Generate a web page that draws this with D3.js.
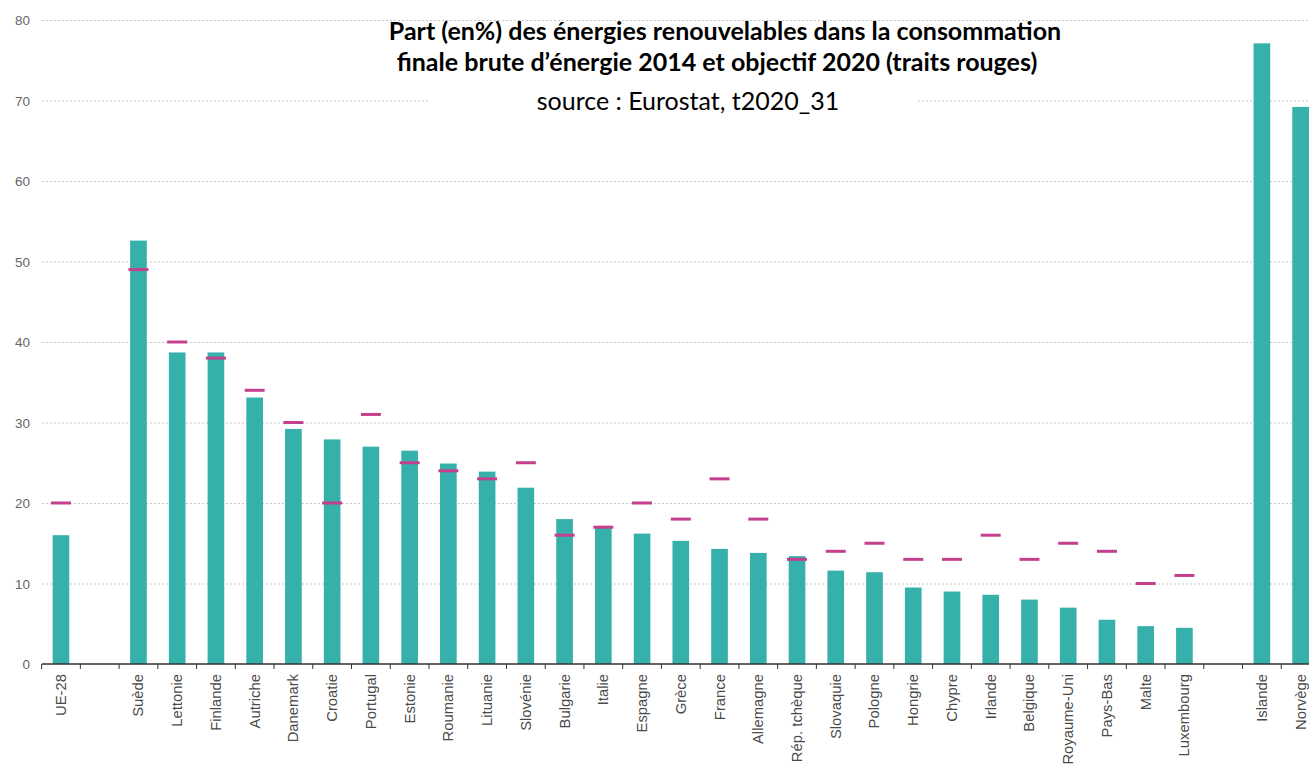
<!DOCTYPE html>
<html>
<head>
<meta charset="utf-8">
<script src="https://cdn.jsdelivr.net/npm/d3@7"></script>
<style>
  body { margin: 0; background: #fff; }
  svg { display: block; }
</style>
</head>
<body>
<div id="chart"></div>
<script>
// les pays (les "" sont des cases vides dans l'axe)
let pays = ["UE-28", "", "Suède", "Lettonie", "Finlande", "Autriche", "Danemark", "Croatie",
    "Portugal", "Estonie", "Roumanie", "Lituanie", "Slovénie", "Bulgarie", "Italie", "Espagne",
    "Grèce", "France", "Allemagne", "Rép. tchèque", "Slovaquie", "Pologne", "Hongrie", "Chypre",
    "Irlande", "Belgique", "Royaume-Uni", "Pays-Bas", "Malte", "Luxembourg", " ", "Islande", "Norvège"];

// part 2014 (%)
let part2014 = [16.0, null, 52.6, 38.7, 38.7, 33.1, 29.2, 27.9,
    27.0, 26.5, 24.9, 23.9, 21.9, 18.0, 17.1, 16.2,
    15.3, 14.3, 13.8, 13.4, 11.6, 11.4, 9.5, 9.0,
    8.6, 8.0, 7.0, 5.5, 4.7, 4.5, null, 77.1, 69.2];

// objectif 2020 (%)
let objectif2020 = [20, null, 49, 40, 38, 34, 30, 20,
    31, 25, 24, 23, 25, 16, 17, 20,
    18, 23, 18, 13, 14, 15, 13, 13,
    16, 13, 15, 14, 10, 11, null, null, null];

let yTicks = [0, 10, 20, 30, 40, 50, 60, 70, 80];

let titre1 = "Part (en%) des énergies renouvelables dans la consommation";
let titre2 = "finale brute d\u2019énergie 2014 et objectif 2020 (traits rouges)";
let source = "source : Eurostat, t2020_31";

let width = 1309;
let height = 764;

let svg = d3.select('#chart')
    .append('svg')
    .attr('width', width)
    .attr('height', height);

let x = d3.scaleBand()
    .domain(pays)
    .range([41.6, 1320])
    .paddingInner(0.57)
    .paddingOuter(0.285);

let y = d3.scaleLinear()
    .domain([0, 80])
    .range([664, 20]);

let police = '"Liberation Sans", Arial, sans-serif';

// grille en pointillés
svg.append('g')
    .selectAll('line')
    .data(yTicks.slice(1))
    .enter()
    .append('line')
    .attr('x1', 42)
    .attr('x2', width)
    .attr('y1', d => y(d) + 0.5)
    .attr('y2', d => y(d) + 0.5)
    .attr('stroke', '#c8c8c8')
    .attr('stroke-width', 1)
    .attr('stroke-dasharray', '2,2');

// graduations à gauche
svg.append('g')
    .selectAll('text')
    .data(yTicks)
    .enter()
    .append('text')
    .attr('x', 30)
    .attr('y', d => y(d) + 5)
    .attr('text-anchor', 'end')
    .style('font-family', police)
    .style('font-size', '13.5px')
    .attr('fill', '#666')
    .text(d => d);

// barres
let idx = d3.range(pays.length);
svg.append('g')
    .selectAll('rect')
    .data(idx.filter(i => part2014[i] != null))
    .enter()
    .append('rect')
    .attr('x', i => x(pays[i]))
    .attr('width', x.bandwidth())
    .attr('y', i => y(part2014[i]))
    .attr('height', i => y(0) - y(part2014[i]))
    .attr('fill', '#35b0ab');

// axe du bas
let gx = svg.append('g')
    .attr('transform', 'translate(0,' + y(0) + ')');
gx.append('line')
    .attr('x1', 42)
    .attr('x2', width)
    .attr('stroke', '#333')
    .attr('stroke-width', 1.5);
gx.selectAll('.tick')
    .data(pays)
    .enter()
    .append('line')
    .attr('x1', d => x(d) - x.step() * x.paddingInner() / 2)
    .attr('x2', d => x(d) - x.step() * x.paddingInner() / 2)
    .attr('y1', 0)
    .attr('y2', 5)
    .attr('stroke', '#333');

// noms des pays, tournés (un peu étirés comme dans l'image d'origine)
gx.selectAll('text')
    .data(pays.filter(d => d.trim() != ""))
    .enter()
    .append('text')
    .attr('transform', d => 'translate(' + (x(d) + x.bandwidth() / 2 + 5) + ',10) rotate(-90) scale(1.06,1)')
    .attr('text-anchor', 'end')
    .style('font-family', police)
    .style('font-size', '14px')
    .attr('fill', '#4a4a4a')
    .text(d => d);

// objectifs 2020 (traits rouges)
svg.append('g')
    .selectAll('line')
    .data(idx.filter(i => objectif2020[i] != null))
    .enter()
    .append('line')
    .attr('x1', i => x(pays[i]) + x.bandwidth() / 2 - 10)
    .attr('x2', i => x(pays[i]) + x.bandwidth() / 2 + 10)
    .attr('y1', i => y(objectif2020[i]))
    .attr('y2', i => y(objectif2020[i]))
    .attr('stroke', '#c4408d')
    .attr('stroke-width', 3);

// titre
svg.append('rect')
    .attr('x', 429)
    .attr('y', 86)
    .attr('width', 489)
    .attr('height', 32)
    .attr('fill', '#fff');

svg.append('text')
    .attr('x', 725)
    .attr('y', 40)
    .attr('text-anchor', 'middle')
    .style('font-family', 'Lato, sans-serif')
    .style('font-weight', 'bold')
    .style('font-size', '25px')
    .attr('fill', '#000')
    .text(titre1);
svg.append('text')
    .attr('x', 717)
    .attr('y', 71)
    .attr('text-anchor', 'middle')
    .style('font-family', 'Lato, sans-serif')
    .style('font-weight', 'bold')
    .style('font-size', '25px')
    .attr('fill', '#000')
    .text(titre2);
svg.append('text')
    .attr('x', 688)
    .attr('y', 110)
    .attr('text-anchor', 'middle')
    .style('font-family', 'Lato, sans-serif')
    .style('font-size', '25px')
    .attr('fill', '#000')
    .text(source);
</script>
</body>
</html>
